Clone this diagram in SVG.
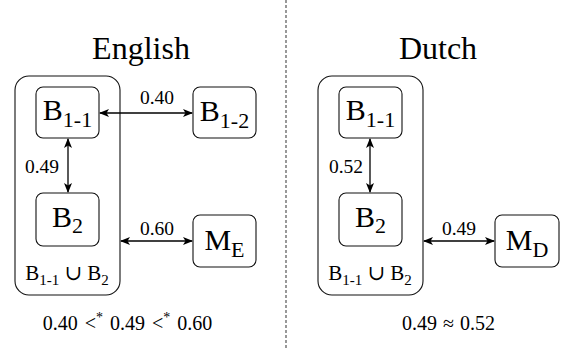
<svg xmlns="http://www.w3.org/2000/svg" width="564" height="349" viewBox="0 0 564 349" font-family="'Liberation Serif', 'Times New Roman', Times, 'DejaVu Serif', serif">
<style>
text{font-family:'Liberation Serif','Times New Roman',Times,'DejaVu Serif',serif;fill:#000}
.title{font-size:32px;text-anchor:middle}
.node{font-size:30px;text-anchor:middle}
.lbl{font-size:19.5px;text-anchor:middle}
.box{fill:#fff;stroke:#111;stroke-width:1.1}
.edge{stroke:#000;stroke-width:1.3;fill:none;marker-start:url(#ah);marker-end:url(#ah)}
</style>
<defs>
<marker id="ah" viewBox="0 0 10 8" refX="9" refY="4" markerWidth="10" markerHeight="8" markerUnits="userSpaceOnUse" orient="auto-start-reverse">
<path d="M0,0 L10,4 L0,8 L2.5,4 z" fill="#000"/>
</marker>
</defs>
<rect width="564" height="349" fill="#fff"/>
<line x1="286" y1="0" x2="286" y2="349" stroke="#555" stroke-width="1.2" stroke-dasharray="3,2"/>
<text class="title" x="141" y="59">English</text>
<text class="title" x="438" y="59">Dutch</text>
<g id="en-group">
<rect class="box" x="15" y="76" width="105" height="219" rx="14"/>
<text class="lbl" x="67" y="280" style="font-size:21px">B<tspan dy="5" font-size="15">1-1</tspan><tspan dy="-5"> ∪ B</tspan><tspan dy="5" font-size="15">2</tspan></text>
</g>
<g id="en-b11">
<rect class="box" x="36" y="87" width="63" height="51" rx="7"/>
<text class="node" x="67.5" y="120">B<tspan dy="7" font-size="22">1-1</tspan></text>
</g>
<g id="en-b2">
<rect class="box" x="36" y="193" width="63" height="53" rx="7"/>
<text class="node" x="67.5" y="227">B<tspan dy="6" font-size="22">2</tspan></text>
</g>
<g id="en-b12">
<rect class="box" x="193" y="87" width="63" height="51" rx="7"/>
<text class="node" x="224.5" y="121">B<tspan dy="7" font-size="22">1-2</tspan></text>
</g>
<g id="en-me">
<rect class="box" x="193" y="215" width="63" height="52" rx="7"/>
<text class="node" x="224.5" y="250">M<tspan dy="7" font-size="22">E</tspan></text>
</g>
<g id="nl-group">
<rect class="box" x="318" y="76" width="105" height="219" rx="14"/>
<text class="lbl" x="370" y="280" style="font-size:21px">B<tspan dy="5" font-size="15">1-1</tspan><tspan dy="-5"> ∪ B</tspan><tspan dy="5" font-size="15">2</tspan></text>
</g>
<g id="nl-b11">
<rect class="box" x="339" y="87" width="63" height="51" rx="7"/>
<text class="node" x="370.5" y="120">B<tspan dy="7" font-size="22">1-1</tspan></text>
</g>
<g id="nl-b2">
<rect class="box" x="339" y="193" width="63" height="53" rx="7"/>
<text class="node" x="370.5" y="227">B<tspan dy="6" font-size="22">2</tspan></text>
</g>
<g id="nl-md">
<rect class="box" x="495" y="215" width="64" height="52" rx="7"/>
<text class="node" x="527" y="250">M<tspan dy="7" font-size="22">D</tspan></text>
</g>
<g id="connectors">
<line class="edge" x1="100" y1="113" x2="192" y2="113"/>
<line class="edge" x1="68" y1="139" x2="68" y2="192"/>
<line class="edge" x1="121" y1="241" x2="192" y2="241"/>
<line class="edge" x1="370" y1="139" x2="370" y2="192"/>
<line class="edge" x1="424" y1="241" x2="494" y2="241"/>
<text class="lbl" x="157" y="104">0.40</text>
<text class="lbl" x="42" y="173">0.49</text>
<text class="lbl" x="157" y="235">0.60</text>
<text class="lbl" x="346" y="173">0.52</text>
<text class="lbl" x="459" y="235">0.49</text>
</g>
<text class="lbl" x="127.5" y="330" style="font-size:20px">0.40<tspan dx="7">&lt;</tspan><tspan dy="-8" font-size="14">*</tspan><tspan dy="8" dx="7">0.49</tspan><tspan dx="7">&lt;</tspan><tspan dy="-8" font-size="14">*</tspan><tspan dy="8" dx="7">0.60</tspan></text>
<text class="lbl" x="448.5" y="330" style="font-size:20px">0.49<tspan dx="6">≈</tspan><tspan dx="6">0.52</tspan></text>
</svg>
